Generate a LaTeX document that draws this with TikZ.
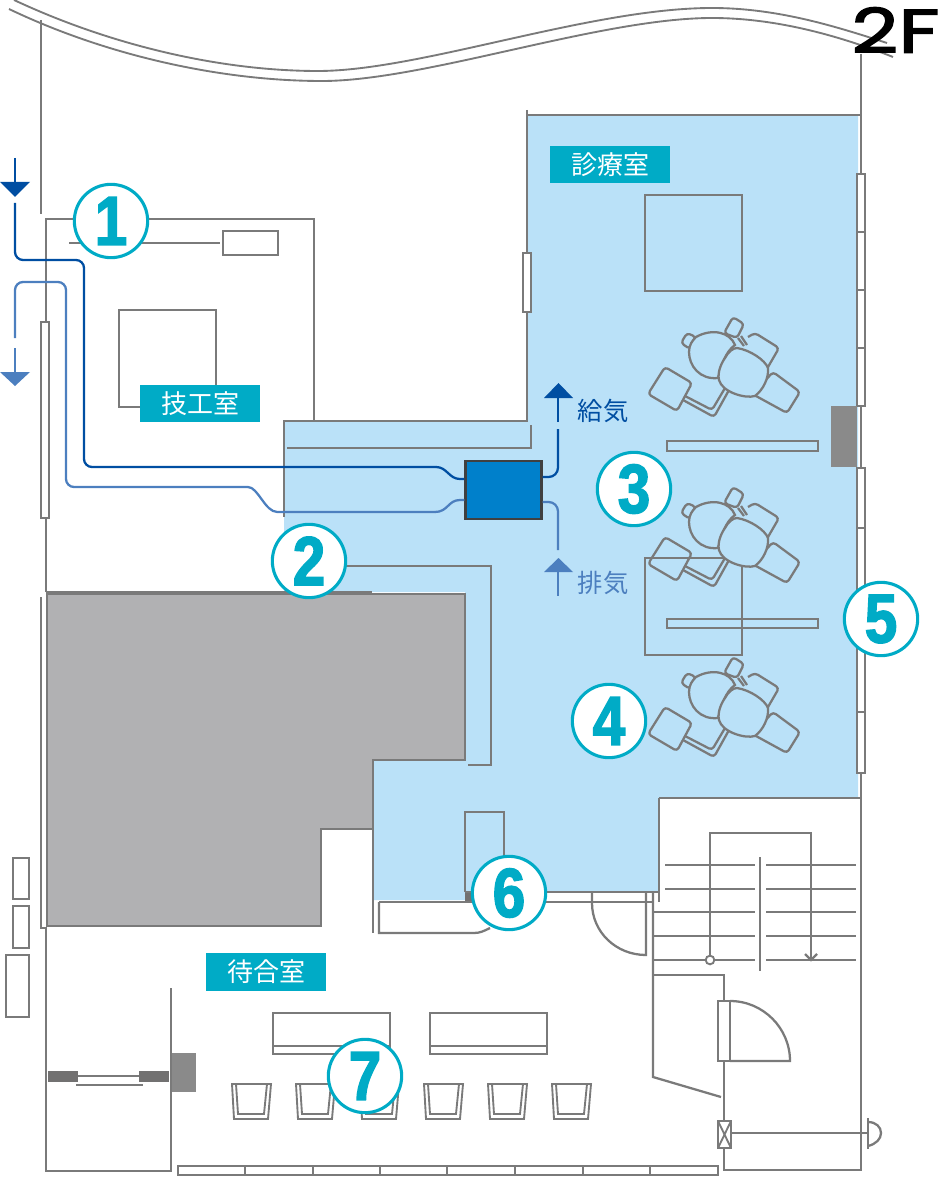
\documentclass[tikz,border=0pt]{standalone}
\usepackage{fontspec}
\setmainfont{Liberation Sans}
\newfontfamily\cjk{Noto Sans CJK JP}
\newfontfamily\digitfont[FakeStretch=0.84,BoldFeatures={FakeBold=2.2}]{Liberation Sans}
\newfontfamily\floorfont[FakeBold=2.5,FakeStretch=1.33]{Poppins}
\definecolor{wallc}{HTML}{7A7A7A}
\definecolor{roomblue}{HTML}{BAE1F8}
\definecolor{teal1}{HTML}{00ABC6}
\definecolor{grayblock}{HTML}{B1B1B3}
\definecolor{colblock}{HTML}{8A8A8A}
\definecolor{darkblock}{HTML}{727171}
\definecolor{supply}{HTML}{004EA2}
\definecolor{exhaust}{HTML}{4C7FBF}
\definecolor{unitblue}{HTML}{0080CB}
\tikzset{
  x=0.75pt,y=-0.75pt,
  wall/.style={draw=wallc,line width=1.7pt},
  thin wall/.style={draw=wallc,line width=1.4pt},
  winbox/.style={draw=wallc,line width=1.7pt,fill=white},
  numc/.style={circle,draw=teal1,fill=white,line width=2.3pt,minimum size=55pt,inner sep=0pt,
     text=teal1,font=\digitfont\bfseries\fontsize{52}{52}\selectfont},
  roomlabel/.style={fill=teal1,text=white,minimum width=90pt,minimum height=28pt,inner sep=0pt,
     font=\cjk\fontsize{19.5}{19.5}\selectfont},
  airsup/.style={text=supply,font=\cjk\fontsize{19}{19}\selectfont},
  airexh/.style={text=exhaust,font=\cjk\fontsize{19}{19}\selectfont},
  supline/.style={draw=supply,line width=1.7pt},
  exhline/.style={draw=exhaust,line width=1.7pt},
  dent/.style={draw=wallc,line width=1.7pt,rounded corners=2.5pt,line join=round},
  chairp/.pic={
    \draw[dent] (733,317)--(744,324)--(737,338)--(724,333)--cycle;
    \draw[dent] (687,333)--(696,337)--(690,349)--(681,343)--cycle;
    \draw[dent] (748,337)--(755,333)--(779,348)--(768,367);
    \draw[dent] (738,338)--(744,346);
    \draw[dent] (741,336)--(747,345);
    \draw[dent] (763,383)--(773,372)--(800,392)--(787,413)--(756,396);
    \draw[dent] (665,367)--(692,383)--(677,411)--(648,394)--cycle;
    \draw[dent] (685,396)--(712,410)--(725,388);
    \draw[dent] (683,400)--(714,417)--(729,390);
    \draw[draw=wallc,line width=1.7pt,fill=roomblue]
       (696,337) .. controls (712,328) and (730,332) .. (735,345)
       .. controls (725,352) and (722,365) .. (718,378)
       .. controls (700,380) and (689,366) .. (689,352) .. controls (689,345) and (692,341) .. (696,337) -- cycle;
    \draw[draw=wallc,line width=1.7pt,fill=roomblue]
       (737,348) .. controls (750,350) and (765,360) .. (768,368)
       .. controls (769,378) and (763,390) .. (755,396)
       .. controls (745,399) and (722,392) .. (719,380)
       .. controls (717,372) and (722,362) .. (725,358)
       .. controls (728,352) and (733,348) .. (737,348) -- cycle;
  },
  seatp/.pic={
    \draw[thin wall] (0,0)--(39,0)--(36,35)--(2,35)--cycle;
    \draw[thin wall] (4,0)--(6,30)--(32,30)--(35,0);
  }
}
\begin{document}
\begin{tikzpicture}
\useasboundingbox (0,0) rectangle (940,1180);
% room fill
\fill[roomblue] (527,115)--(858,115)--(858,798)--(659,798)--(659,892)--(465,892)--(465,900)--(374,900)--(374,760)--(465,760)--(465,592)--(284,592)--(284,421)--(527,421)--cycle;
% gray block
\draw[wall,fill=grayblock] (47,594)--(465,594)--(465,760)--(373,760)--(373,829)--(321,829)--(321,926)--(47,926)--cycle;
% top curves
\draw[thin wall] (14,0) .. controls (110,45) and (220,71) .. (318,71) .. controls (420,71) and (590,8) .. (712,8) .. controls (780,8) and (840,28) .. (887,43);
\draw[thin wall] (9,9) .. controls (105,55) and (220,81) .. (322,81) .. controls (425,81) and (600,18) .. (712,18) .. controls (780,18) and (845,38) .. (893,57);
% upper-left room and walls
\draw[wall] (41,20)--(41,214);
\draw[wall] (46,592)--(46,219)--(314,219)--(314,421);
\draw[wall] (46,592)--(372,592);
\draw[wall] (69,243)--(220,243);
\draw[winbox] (223,231) rectangle (278,255);
\draw[wall] (119,310) rectangle (216,407);
\draw[winbox] (41,322) rectangle (49,518);
\draw[wall] (41,597)--(41,928)--(47,928);
\draw[wall] (46,928)--(46,1171)--(171,1171)--(171,988);
% clinic walls
\draw[wall] (527,110)--(527,421)--(284,421)--(284,517);
\draw[wall] (527,115)--(861,115);
\draw[wall] (861,54)--(861,174);
\draw[wall] (287,448)--(531,448)--(531,425);
\draw[winbox] (523,253) rectangle (531,312);
\draw[wall] (645,195) rectangle (742,291);
\draw[wall] (645,558) rectangle (742,655);
% right windows
\foreach \a/\b in {174/232,232/290,290/348,348/406,468/528,528/590,590/712,712/773}
  \draw[winbox] (857,\a) rectangle (865,\b);
\draw[wall] (861,406)--(861,468);
\fill[colblock] (831,406) rectangle (857,467);
\draw[wall] (861,773)--(861,1170)--(724,1170)--(724,1148);
% chairs and rails
\foreach \d in {0,170,340} \pic at (0,\d) {chairp};
\draw[wall] (667,441) rectangle (818,451);
\draw[wall] (667,619) rectangle (818,628);
% middle partition
\draw[wall] (345,566)--(491,566)--(491,765)--(468,765);
% lower partitions
\draw[wall] (373,829)--(373,933);
\draw[wall] (465,892)--(465,812)--(504,812)--(504,893);
\fill[darkblock] (465,892) rectangle (472,902);
\draw[wall] (465,892)--(659,892);
\draw[wall] (379,902)--(653,902);
\draw[wall] (490,928) .. controls (484,931) and (480,933) .. (474,933)--(379,933)--(379,902);
\draw[wall] (659,798)--(659,902);
\draw[wall] (659,798)--(861,798);
\draw[wall] (592,893)--(592,903) .. controls (592,932) and (616,955) .. (646,955)--(646,893);
\draw[wall] (653,892)--(653,1077)--(721,1097);
\draw[wall] (653,975)--(724,975)--(724,1001);
% stairs
\foreach \y in {865,889} {\draw[wall] (665,\y)--(755,\y); \draw[wall] (766,\y)--(856,\y);}
\foreach \y in {912,936,960} {\draw[wall] (653,\y)--(755,\y); \draw[wall] (766,\y)--(856,\y);}
\draw[wall] (760,857)--(760,971);
\draw[wall] (710,956)--(710,833)--(811,833)--(811,959);
\draw[wall] (805,954)--(811,960)--(817,954);
\node[circle,draw=wallc,fill=white,line width=1.4pt,minimum size=6.5pt,inner sep=0pt] (rail) at (710,960) {};
% entrance door
\draw[winbox] (718,1001) rectangle (730,1061);
\draw[wall] (730,1001) .. controls (763,1001) and (790,1028) .. (790,1061)--(730,1061);
\draw[wall] (724,1061)--(724,1121);
\draw[winbox] (718,1121) rectangle (731,1148);
\draw[thin wall] (718,1121)--(731,1148) (731,1121)--(718,1148);
\draw[wall] (731,1133)--(868,1133);
\draw[wall] (868,1118)--(868,1149);
\draw[wall] (868,1122) .. controls (876,1122) and (881,1127) .. (881,1133) .. controls (881,1139) and (876,1144) .. (868,1146);
% outside boxes
\draw[wall] (13,858) rectangle (29,899);
\draw[wall] (13,906) rectangle (29,948);
\draw[wall] (6,955) rectangle (29,1017);
% auto door
\fill[darkblock] (48,1071) rectangle (78,1082);
\fill[darkblock] (139,1071) rectangle (169,1082);
\draw[thin wall] (78,1076)--(139,1076);
\draw[thin wall] (76,1085)--(143,1085);
\fill[colblock] (172,1053) rectangle (196,1092);
% benches
\draw[wall] (273,1013) rectangle (390,1054);
\draw[wall] (273,1046)--(390,1046);
\draw[wall] (430,1013) rectangle (547,1054);
\draw[wall] (430,1046)--(547,1046);
% seats
\foreach \x in {232,296,360,424,488,552} \pic at (\x,1084) {seatp};
% bottom strip
\draw[wall] (178,1166) rectangle (718,1175);
\foreach \x in {245,313,380,447,515,583,650} \draw[thin wall] (\x,1166)--(\x,1175);
% ventilation unit
\node[draw=black!75,line width=1.7pt,fill=unitblue,minimum width=57pt,minimum height=43pt,inner sep=0pt] (unit) at (503.5,490) {};
\coordinate (supin) at (unit.west |- 0,479);
\coordinate (exhin) at (unit.west |- 0,500);
\coordinate (supout) at (unit.east |- 0,477);
\coordinate (exhout) at (unit.east |- 0,502);
% supply path
\coordinate (s0) at (15,158);
\coordinate (s1) at (15,203);
\draw[supline] (s0)--(15,184);
\fill[supply] (0,182)--(30,182)--(15,197)--cycle;
\draw[supline,rounded corners=6pt] (s1)--(15,260)--(84,260)--(84,467)--(436,467);
\draw[supline] (436,467) .. controls (447,467) and (449,479) .. (460,479)--(supin);
\draw[supline,rounded corners=7pt] (supout)--(558,477)--(558,429);
\draw[supline] (558,422)--(558,397);
\fill[supply] (544,398)--(573,398)--(558.5,383)--cycle;
% exhaust path
\fill[exhaust] (0,372)--(30,372)--(15,386)--cycle;
\draw[exhline] (15,348)--(15,372);
\draw[exhline,rounded corners=6pt] (15,338)--(15,282)--(66,282)--(66,487)--(248,487);
\draw[exhline,rounded corners=2pt] (248,487) .. controls (258,487) and (265,512) .. (280,512)--(435,512);
\draw[exhline] (435,512) .. controls (448,512) and (448,500) .. (460,500)--(exhin);
\draw[exhline,rounded corners=7pt] (exhout)--(558,502)--(558,550);
\draw[exhline] (558,570)--(558,596);
\fill[exhaust] (544,572)--(573,572)--(558.5,558)--cycle;
% labels
\node[roomlabel] (rm1) at (200,403.5) {技工室};
\node[roomlabel] (rm2) at (610,164.5) {診療室};
\node[roomlabel] (rm3) at (266,972) {待合室};
\node[airsup] (lsup) at (603,411) {給気};
\node[airexh] (lexh) at (603,583) {排気};
% number circles
\node[numc] (n1) at (111,221) {1};
\node[numc] (n2) at (309,561) {2};
\node[numc] (n3) at (634,489) {3};
\node[numc] (n4) at (609,721) {4};
\node[numc] (n5) at (881,619) {5};
\node[numc] (n6) at (509,893) {6};
\node[numc] (n7) at (365,1076) {7};
% floor
\node[inner sep=0pt,text=black,font=\floorfont\fontsize{46}{46}\selectfont] (fl) at (895.5,30) {2F};
\end{tikzpicture}
\end{document}
